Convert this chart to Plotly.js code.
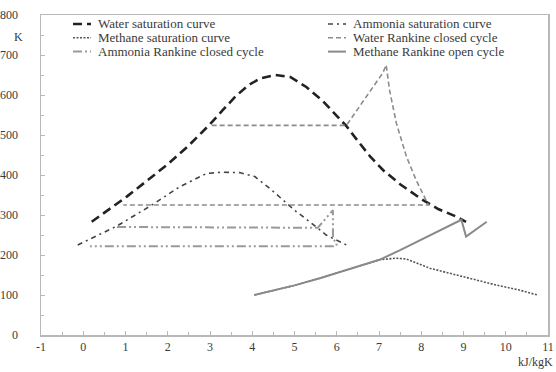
<!DOCTYPE html>
<html><head><meta charset="utf-8">
<script src="https://cdn.plot.ly/plotly-3.0.1.min.js"></script>
<style>html,body{margin:0;padding:0;background:#fff}#chart{width:556px;height:372px}</style>
</head><body><div id="chart"></div>
<script>
// Entropy s (kJ/kgK) and temperature T (K)
const waterSatS = [0.2, 0.6, 1.03, 1.5, 2.0, 2.5, 3.0, 3.3, 3.6, 3.9, 4.2, 4.55, 4.9, 5.28, 5.67, 6.0, 6.23, 6.5, 6.8, 7.1, 7.5, 8.0, 8.4, 8.83, 9.06];
const waterSatT = [283, 314, 346, 385, 427, 474, 527, 562, 596, 624, 642, 650, 645, 620, 585, 548, 522, 485, 445, 412, 377, 340, 315, 296, 283];

const ammoniaSatS = [-0.13, 0.3, 0.79, 1.58, 2.29, 2.92, 3.3, 3.7, 4.06, 4.41, 4.72, 5.0, 5.36, 5.75, 6.23];
const ammoniaSatT = [225, 247, 272, 322, 371, 404, 407, 406, 396, 367, 337, 312, 283, 250, 225];

const methaneSatS = [4.05, 4.5, 5.0, 5.6, 6.38, 7.01, 7.4, 7.65, 8.2, 8.98, 9.77, 10.3, 10.75];
const methaneSatT = [100, 111, 124, 142, 167, 188, 192, 190, 167, 146, 125, 113, 100];

const waterRankineS = [3.04, 6.23, 6.70, 7.09, 7.17, 7.25, 7.41, 7.65, 7.88, 8.12, 8.17, 0.95];
const waterRankineT = [524, 524, 596, 655, 675, 612, 530, 446, 387, 337, 325, 325];

const ammoniaRankineS = [0.80, 5.55, 5.91, 5.91, 6.0, 5.99, 0.16];
const ammoniaRankineT = [270, 268, 312, 240, 230, 222, 222];

const methaneOpenS = [4.05, 4.5, 5.0, 5.6, 6.38, 7.01, 7.5, 8.0, 8.5, 8.95, 9.06, 9.55];
const methaneOpenT = [100, 111, 124, 142, 167, 188, 212, 238, 264, 288, 246, 283];

const seriesNames = ['Water saturation curve', 'Ammonia saturation curve', 'Methane saturation curve',
  'Water Rankine closed cycle', 'Ammonia Rankine closed cycle', 'Methane Rankine open cycle'];

const xTickVals = [-1, 0, 1, 2, 3, 4, 5, 6, 7, 8, 9, 10, 11];
const xTickText = ['-1', '0', '1', '2', '3', '4', '5', '6', '7', '8', '9', '10', '11'];

const FONT = '"Liberation Serif", "Times New Roman", serif';
const TXT = '#3a3a3a';

const styles = [
  {color: '#222', width: 2.6, dash: '9px,5px'},
  {color: '#444', width: 1.6, dash: '5px,4px,2px,4px'},
  {color: '#555', width: 1.6, dash: '2px,1.5px'},
  {color: '#8c8c8c', width: 1.6, dash: '5px,3px'},
  {color: '#9a9a9a', width: 2, dash: '9px,3px,2px,3px,2px,3px'},
  {color: '#8a8a8a', width: 2, dash: 'solid'}
];
const xs = [waterSatS, ammoniaSatS, methaneSatS, waterRankineS, ammoniaRankineS, methaneOpenS];
const ys = [waterSatT, ammoniaSatT, methaneSatT, waterRankineT, ammoniaRankineT, methaneOpenT];

const traces = seriesNames.map((n, i) => ({
  type: 'scatter', mode: 'lines', name: n, x: xs[i], y: ys[i],
  line: styles[i], hoverinfo: 'skip', showlegend: false
}));

// Plot area geometry (px) used to place the legend keys
const W = 556, H = 372, ML = 41, MR = 8, MT = 15, MB = 37;
const PW = W - ML - MR, PH = H - MT - MB;
const px2x = p => (p - ML) / PW;
const py2y = p => (H - MB - p) / PH;

const shapes = [], annotations = [];
seriesNames.forEach((n, i) => {
  const col = i % 2, row = Math.floor(i / 2);
  const x0 = col ? 328 : 73, x1 = x0 + 18, yy = 24 + row * 13.8;
  shapes.push({type: 'line', xref: 'paper', yref: 'paper', x0: px2x(x0), x1: px2x(x1), y0: py2y(yy), y1: py2y(yy), line: styles[i]});
  annotations.push({text: n, xref: 'paper', yref: 'paper', x: px2x(x1 + 5), y: py2y(yy), xanchor: 'left', yanchor: 'middle', showarrow: false, font: {family: FONT, size: 13, color: TXT}});
});
annotations.push({text: 'K', xref: 'paper', yref: 'paper', x: px2x(18), y: py2y(37), xanchor: 'center', yanchor: 'middle', showarrow: false, font: {family: FONT, size: 12, color: TXT}});
annotations.push({text: 'kJ/kgK', xref: 'paper', yref: 'paper', x: px2x(555), y: py2y(362), xanchor: 'right', yanchor: 'middle', showarrow: false, font: {family: FONT, size: 12, color: TXT}});

const layout = {
  width: W, height: H,
  margin: {l: ML, r: MR, t: MT, b: MB},
  paper_bgcolor: '#fff', plot_bgcolor: '#fff',
  font: {family: FONT, size: 12, color: TXT},
  xaxis: {
    range: [-1, 11], tickvals: xTickVals, ticktext: xTickText, showgrid: false, zeroline: false,
    showline: true, linecolor: '#b8b8b8', linewidth: 1.5, mirror: true,
    ticks: 'inside', ticklen: 4, tickcolor: '#b8b8b8',
    minor: {dtick: 0.5, ticks: 'inside', ticklen: 3, tickcolor: '#b8b8b8'},
    tickfont: {family: FONT, size: 12, color: TXT}
  },
  yaxis: {
    range: [0, 800], dtick: 100, showgrid: false, zeroline: false,
    showline: true, linecolor: '#b8b8b8', linewidth: 1.5, mirror: true,
    ticks: 'inside', ticklen: 4, tickcolor: '#b8b8b8',
    minor: {dtick: 50, ticks: 'inside', ticklen: 3, tickcolor: '#b8b8b8'},
    ticklabelstandoff: 19,
    tickfont: {family: FONT, size: 12, color: TXT}
  },
  showlegend: false,
  shapes: shapes,
  annotations: annotations
};

Plotly.newPlot('chart', traces, layout, {staticPlot: true, displayModeBar: false});
</script></body></html>
